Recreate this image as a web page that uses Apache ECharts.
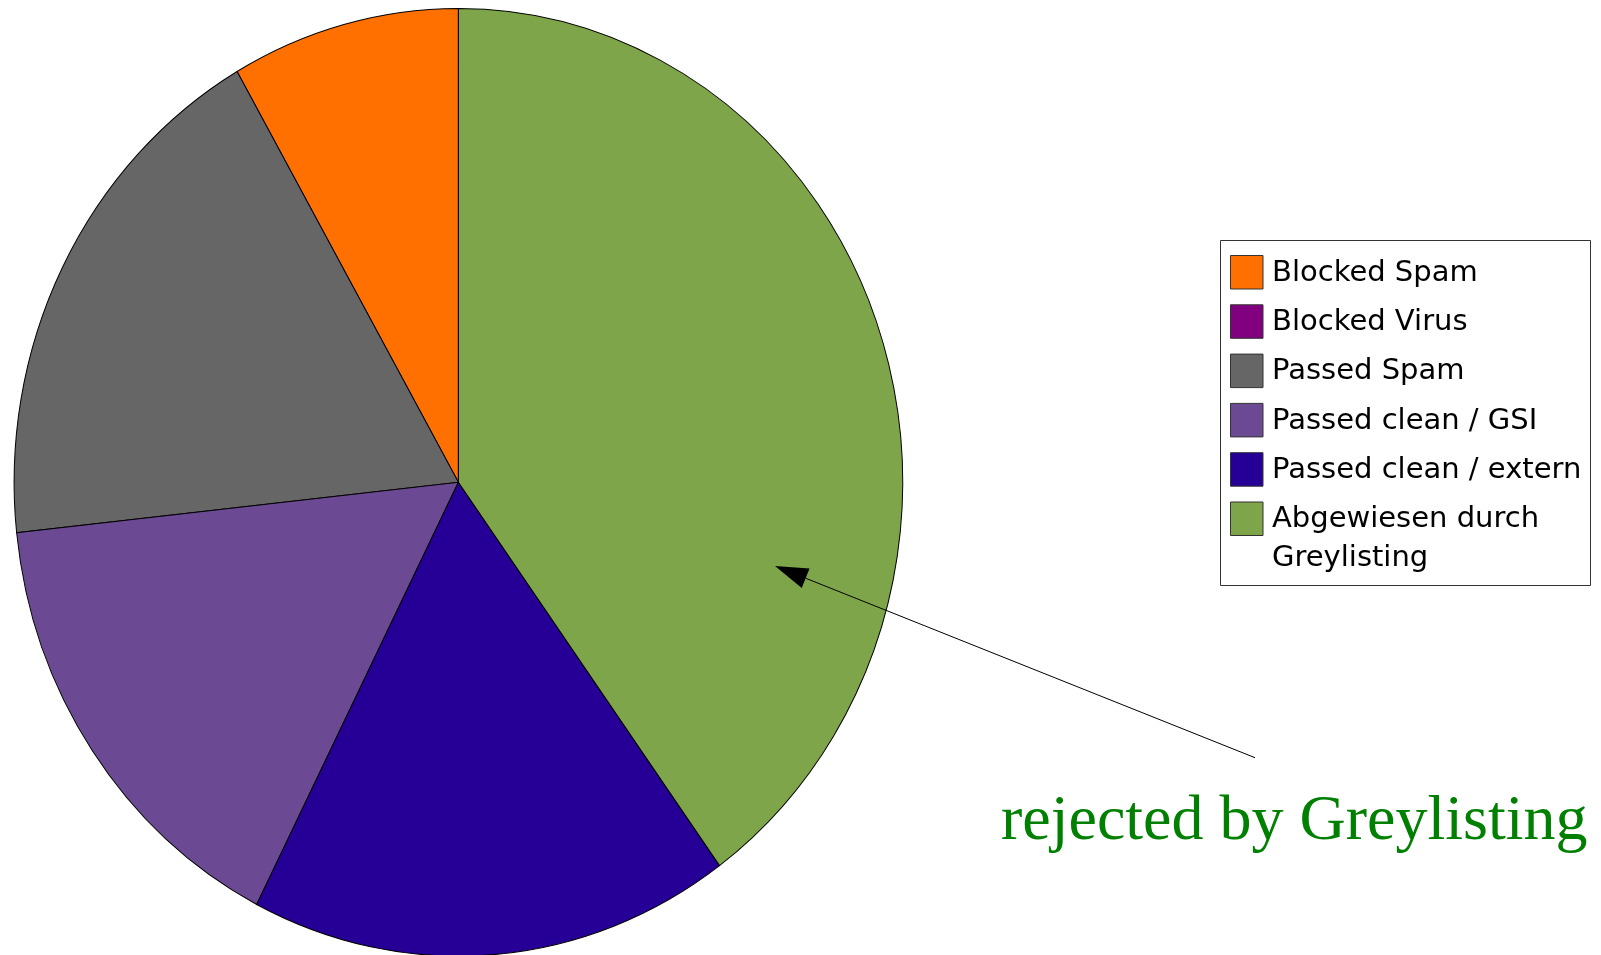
<!DOCTYPE html>
<html>
<head>
<meta charset="utf-8">
<script src="https://cdn.jsdelivr.net/npm/echarts@6/dist/echarts.min.js"></script>
<style>
html,body{margin:0;padding:0;background:#ffffff;}
#chart{width:1601px;height:955px;}
</style>
</head>
<body>
<div id="chart"></div>
<script>
// ---- data ----
const categories = ['Blocked Spam', 'Blocked Virus', 'Passed Spam', 'Passed clean / GSI', 'Passed clean / extern', 'Abgewiesen durch\nGreylisting'];
const shares = [8.3, 0, 18.4, 15.8, 17.5, 40.0];
const colors = ['#ff7000', '#800080', '#666666', '#6b4a93', '#260096', '#7fa54a'];
const annotationText = 'rejected by Greylisting';

// ---- layout ----
const CX = 458.4, CY = 482.3, RX = 444.3, RY = 473.8;
const total = shares.reduce((a, b) => a + b, 0);
const cumStart = [];
shares.reduce((acc, v, i) => { cumStart[i] = acc; return acc + v; }, 0);

const pieData = shares.map((v, i) => ({
  name: categories[i],
  value: [v, cumStart[i]],
  itemStyle: { color: colors[i] }
}));

function renderSlice(params, api) {
  const v = api.value(0);
  const start = api.value(1);
  if (!v) return null;
  const a0 = start / total * Math.PI * 2;
  const a1 = (start + v) / total * Math.PI * 2;
  return {
    type: 'sector',
    shape: { cx: CX, cy: CY, r: RX, r0: 0, startAngle: -Math.PI / 2 - a0, endAngle: -Math.PI / 2 - a1, clockwise: false },
    originX: CX, originY: CY, scaleY: RY / RX,
    style: { fill: api.visual('color'), stroke: '#000000', lineWidth: 1 }
  };
}

// ---- legend (graphic) ----
const LX = 1220.5, LY = 240.5, LW = 370, LH = 345;
const rowTop = 255, rowGap = 49.3, sq = 32.5, sqH = 33.5;
const legendEls = [{
  type: 'rect', shape: { x: LX, y: LY, width: LW, height: LH },
  style: { fill: '#ffffff', stroke: '#333333', lineWidth: 1 }, z: 10
}];
categories.forEach((name, i) => {
  const top = rowTop + i * rowGap;
  legendEls.push({
    type: 'rect', shape: { x: 1230.5, y: top + 0.5, width: sq, height: sqH },
    style: { fill: colors[i], stroke: '#333333', lineWidth: 1 }, z: 11
  });
  legendEls.push({
    type: 'text', x: 1272, y: top + sqH / 2 + 1.5 - 19.25,
    style: { text: name, font: '29px "DejaVu Sans"', fill: '#000000', verticalAlign: 'top', align: 'left', lineHeight: 38.5 },
    z: 11
  });
});

// ---- annotation ----
const tip = [775, 566], tail = [1255, 757.7];
const dx = tail[0] - tip[0], dy = tail[1] - tip[1];
const len = Math.sqrt(dx * dx + dy * dy);
const ux = dx / len, uy = dy / len;
const headLen = 33, headHalf = 10.5;
const bx = tip[0] + ux * headLen, by = tip[1] + uy * headLen;
const annotationEls = [
  { type: 'line', shape: { x1: bx, y1: by, x2: tail[0], y2: tail[1] }, style: { stroke: '#000000', lineWidth: 1 }, z: 20 },
  { type: 'polygon', shape: { points: [tip, [bx - uy * headHalf, by + ux * headHalf], [bx + uy * headHalf, by - ux * headHalf]] }, style: { fill: '#000000' }, z: 20 },
  { type: 'text', x: 1001, y: 854, style: { text: annotationText, font: '64px "Liberation Serif"', fill: '#008000', verticalAlign: 'bottom', align: 'left' }, z: 20 }
];

const chart = echarts.init(document.getElementById('chart'), null, { renderer: 'canvas' });
chart.setOption({
  animation: false,
  backgroundColor: '#ffffff',
  series: [{
    type: 'custom',
    coordinateSystem: 'none',
    renderItem: renderSlice,
    data: pieData,
    silent: true
  }],
  graphic: { elements: legendEls.concat(annotationEls) }
});
</script>
</body>
</html>
